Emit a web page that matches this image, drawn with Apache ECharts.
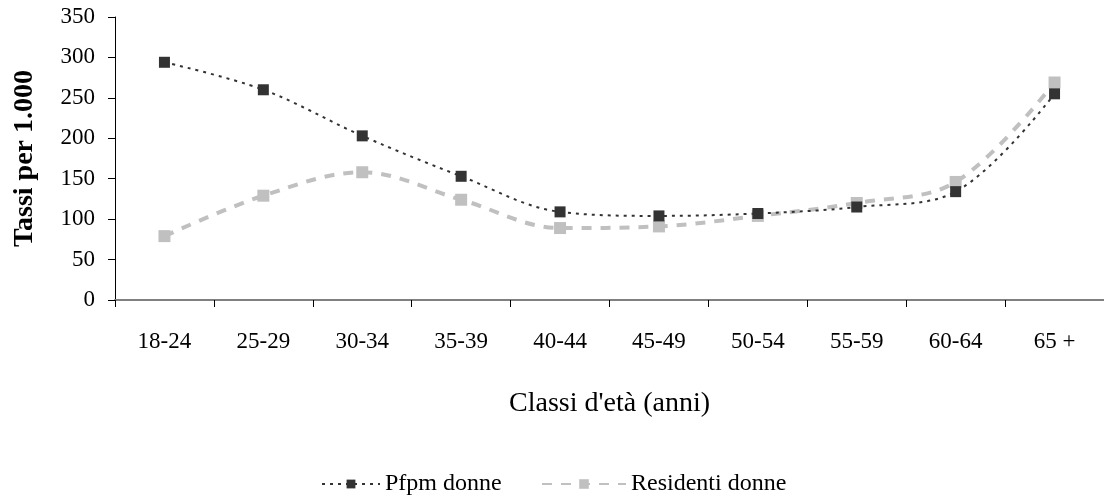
<!DOCTYPE html>
<html>
<head>
<meta charset="utf-8">
<script src="https://cdn.jsdelivr.net/npm/echarts@6/dist/echarts.min.js"></script>
<style>
  html, body { margin: 0; padding: 0; background: #fff; }
  #chart { width: 1104px; height: 502px; }
</style>
</head>
<body>
<div id="chart"></div>
<script>
// Age classes on the category axis
const categories = ['18-24', '25-29', '30-34', '35-39', '40-44', '45-49', '50-54', '55-59', '60-64', '65 +'];
// Rates per 1,000 women
const pfpmDonne = [294, 260, 203, 153, 109, 104, 107, 115, 134, 255];
const residentiDonne = [79, 129, 158, 124, 89, 91, 104, 120, 146, 269];
// Y-axis tick settings
const yMin = 0, yMax = 350, yStep = 50;

const serif = '"Liberation Serif", "DejaVu Serif", serif';
const legendText = { fontFamily: serif, fontSize: 24, color: '#000' };

const chart = echarts.init(document.getElementById('chart'));
chart.setOption({
  animation: false,
  backgroundColor: '#ffffff',
  grid: { left: 115, right: -3, top: 17, bottom: 202, containLabel: false },
  legend: [
    {
      top: 467,
      left: 316,
      itemWidth: 58,
      itemHeight: 11,
      textStyle: legendText,
      data: ['Pfpm donne']
    },
    {
      top: 467,
      left: 536,
      itemWidth: 84,
      itemHeight: 12,
      textStyle: legendText,
      data: ['Residenti donne']
    }
  ],
  xAxis: {
    type: 'category',
    data: categories,
    boundaryGap: true,
    name: "Classi d'età (anni)",
    nameLocation: 'middle',
    nameGap: 90,
    nameTextStyle: { fontFamily: serif, fontSize: 28, color: '#000' },
    axisLine: { lineStyle: { color: '#808080', width: 2 } },
    axisTick: { show: true, length: 7, lineStyle: { color: '#000', width: 1 } },
    axisLabel: { margin: 30, fontFamily: serif, fontSize: 23, color: '#000' },
    splitLine: { show: false }
  },
  yAxis: {
    type: 'value',
    min: yMin,
    max: yMax,
    interval: yStep,
    name: 'Tassi per 1.000',
    nameLocation: 'middle',
    nameGap: 76,
    nameRotate: 90,
    nameTextStyle: { fontFamily: serif, fontSize: 28, fontWeight: 'bold', color: '#000' },
    axisLine: { show: true, lineStyle: { color: '#000', width: 1 } },
    axisTick: { show: true, length: 7, lineStyle: { color: '#000' } },
    axisLabel: { margin: 20, fontFamily: serif, fontSize: 23, color: '#000' },
    splitLine: { show: false }
  },
  series: [
    {
      name: 'Pfpm donne',
      type: 'line',
      data: pfpmDonne,
      smooth: 0.35,
      symbol: 'rect',
      symbolSize: 11,
      itemStyle: { color: '#333333' },
      lineStyle: { color: '#333333', width: 2, type: [3, 5] },
      z: 3
    },
    {
      name: 'Residenti donne',
      type: 'line',
      data: residentiDonne,
      smooth: 0.35,
      symbol: 'rect',
      symbolSize: 12,
      itemStyle: { color: '#c0c0c0' },
      lineStyle: { color: '#c0c0c0', width: 4, type: [10, 9] },
      z: 2
    }
  ]
});
</script>
</body>
</html>
